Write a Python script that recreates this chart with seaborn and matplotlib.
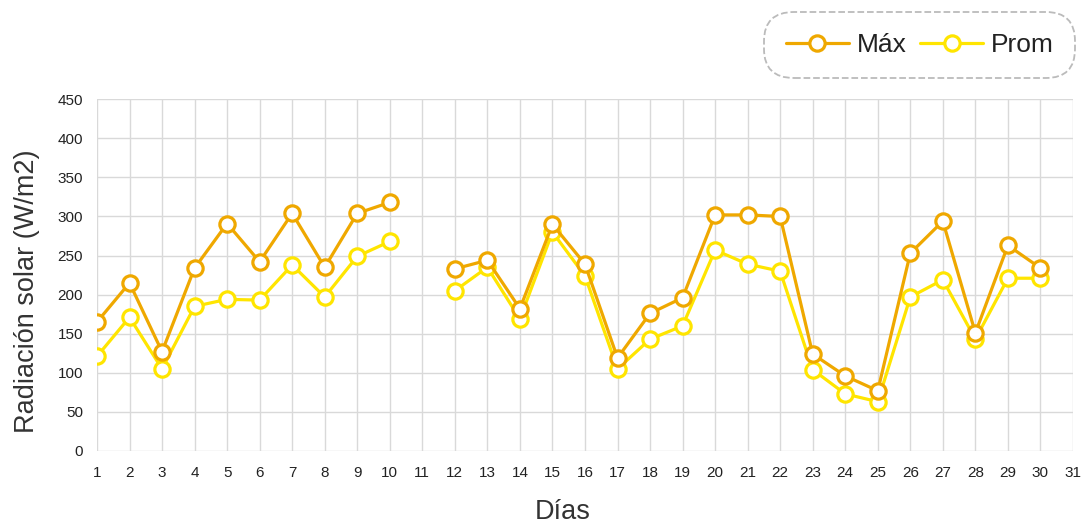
import numpy as np
import pandas as pd
import matplotlib.pyplot as plt
import seaborn as sns
from matplotlib.lines import Line2D

# Datos (día 11 y 31 sin datos)
dias = list(range(1, 32))
maxima = [165, 215, 127, 234, 291, 242, 304, 235, 304, 318, np.nan,
          233, 244, 182, 290, 239, 119, 176, 196, 302, 302, 300,
          124, 96, 77, 253, 294, 151, 263, 234, np.nan]
promedio = [121, 171, 105, 185, 194, 193, 238, 197, 249, 268, np.nan,
            205, 235, 169, 280, 224, 105, 143, 160, 257, 239, 230,
            104, 73, 63, 197, 219, 143, 221, 221, np.nan]

color_max = '#EFA800'
color_prom = '#FFE500'

sns.set_style('white')
plt.rcParams['font.family'] = ['Liberation Sans', 'DejaVu Sans']

# Tramos para cortar la línea donde faltan datos
df = pd.DataFrame({'Dia': dias, 'Max': maxima, 'Prom': promedio})
df['Tramo'] = df['Max'].isna().cumsum()

fig = plt.figure(figsize=(10.86, 5.25), dpi=100)
ax = fig.add_axes([0.0893, 0.141, 0.8987, 0.670])

for col, color in [('Prom', color_prom), ('Max', color_max)]:
    d = df.dropna(subset=[col])
    sns.lineplot(data=d, x='Dia', y=col, units='Tramo', estimator=None,
                 color=color, linewidth=2.3, marker='o', markersize=11,
                 markerfacecolor='white', markeredgecolor=color,
                 markeredgewidth=2.3, ax=ax, legend=False)

ax.set_xlim(1, 31)
ax.set_ylim(0, 450)
ax.set_xticks(dias)
ax.set_yticks(range(0, 451, 50))
ax.tick_params(axis='y', labelsize=11, length=0, pad=10, colors='#222222')
ax.tick_params(axis='x', labelsize=11, length=0, pad=11, colors='#222222')
ax.grid(True, color='#D9D9D9', linewidth=1)
for s in ax.spines.values():
    s.set_visible(False)
ax.set_xlabel('Días', fontsize=19.5, color='#333333')
ax.set_ylabel('Radiación solar (W/m2)', fontsize=19.5, color='#333333')
ax.xaxis.set_label_coords(0.477, -0.137)
ax.yaxis.set_label_coords(-0.058, 0.455)

handles = [
    Line2D([], [], color=color_max, linewidth=2.3, marker='o', markersize=11,
           markerfacecolor='white', markeredgecolor=color_max, markeredgewidth=2.3),
    Line2D([], [], color=color_prom, linewidth=2.3, marker='o', markersize=11,
           markerfacecolor='white', markeredgecolor=color_prom, markeredgewidth=2.3),
]
leg = fig.legend(handles, ['Máx', 'Prom'], loc='upper right',
                 bbox_to_anchor=(0.99, 0.977), borderaxespad=0, ncol=2,
                 fontsize=19, frameon=True, handlelength=2.4,
                 handletextpad=0.3, columnspacing=0.5, borderpad=0.8,
                 labelcolor='#222222')
frame = leg.get_frame()
frame.set_linestyle('--')
frame.set_edgecolor('#AAAAAA')
frame.set_linewidth(1.3)
frame.set_boxstyle('round', pad=0, rounding_size=1.1)

fig.savefig('out.png', dpi=100)
